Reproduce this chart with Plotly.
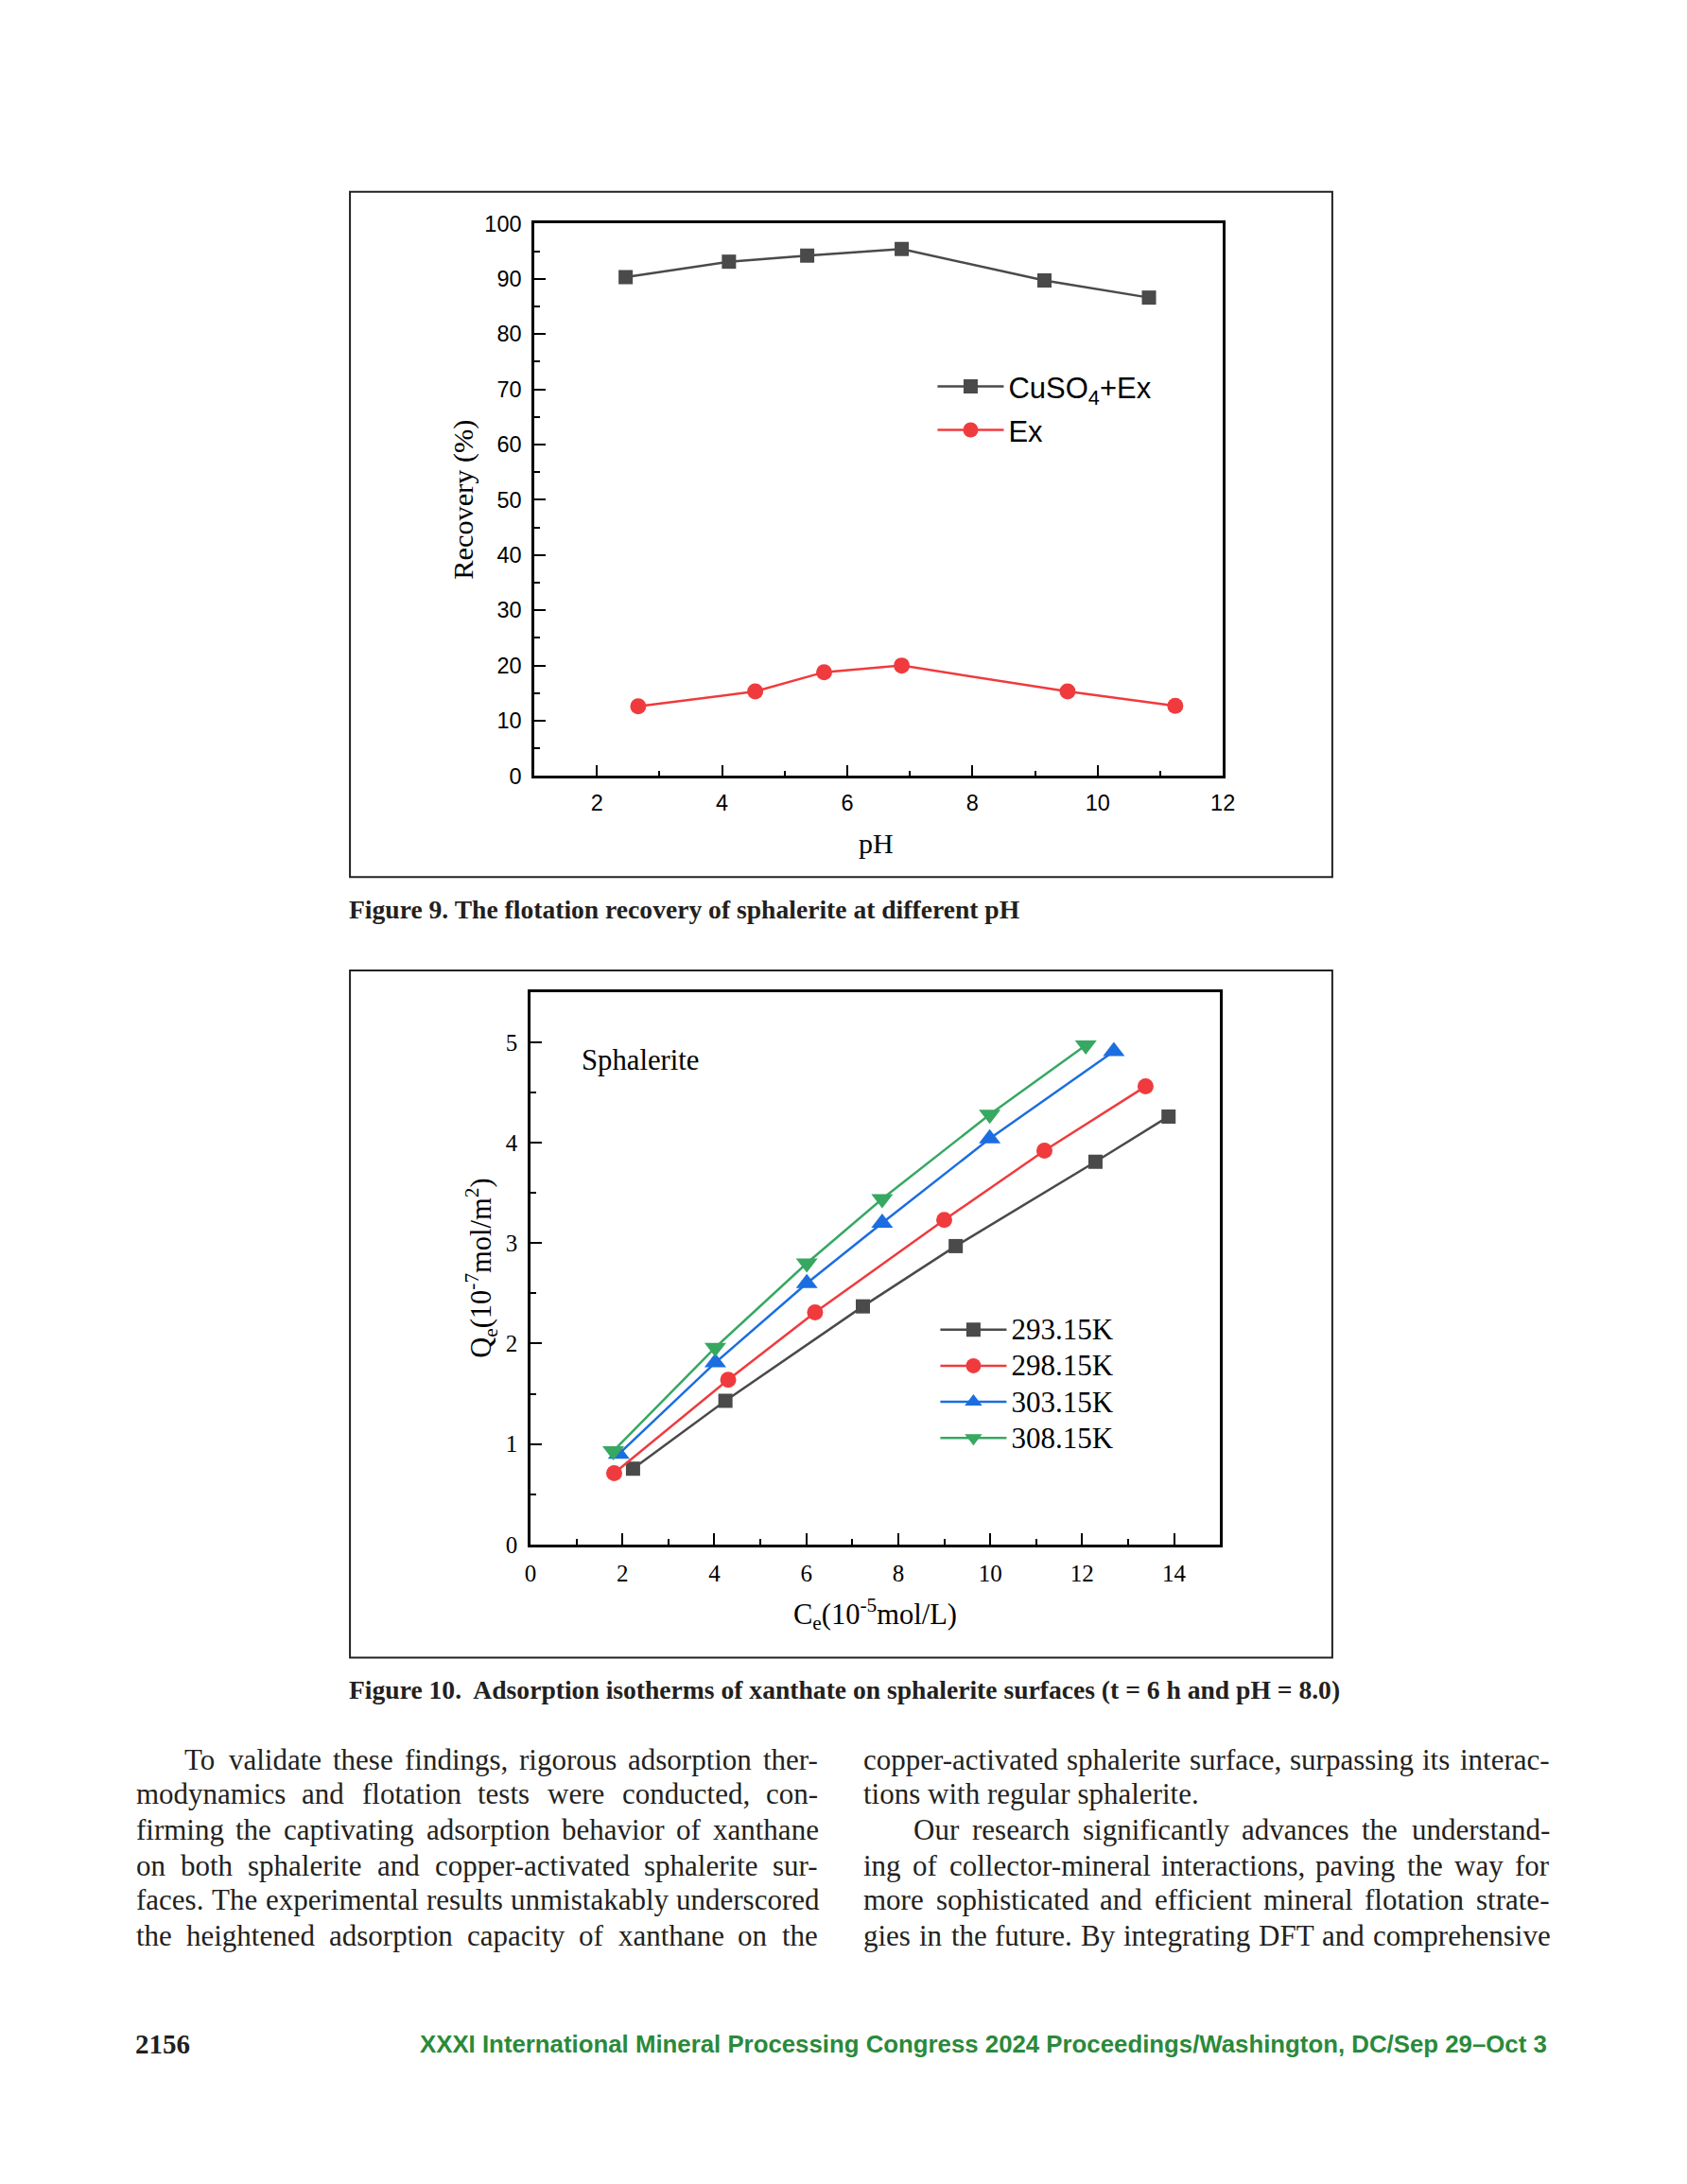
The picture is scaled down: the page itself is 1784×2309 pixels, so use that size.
import plotly.graph_objects as go

W, H = 1784, 2309

# ---------------- data: Figure 9 ----------------
ph_cuso4 = [2.46, 4.11, 5.36, 6.87, 9.15, 10.82]
rec_cuso4 = [90.3, 93.1, 94.2, 95.4, 89.7, 86.6]
ph_ex = [2.66, 4.53, 5.63, 6.87, 9.52, 11.24]
rec_ex = [12.6, 15.3, 18.8, 20.0, 15.3, 12.7]
fig9_names = ["CuSO<sub>4</sub>+Ex", "Ex"]

# ---------------- data: Figure 10 ----------------
temps = ["293.15K", "298.15K", "303.15K", "308.15K"]
ce_293 = [2.23, 4.24, 7.23, 9.25, 12.29, 13.88]
qe_293 = [0.755, 1.43, 2.37, 2.97, 3.81, 4.26]
ce_298 = [1.82, 4.30, 6.19, 9.00, 11.18, 13.38]
qe_298 = [0.71, 1.64, 2.31, 3.23, 3.92, 4.56]
ce_303 = [1.92, 4.02, 6.01, 7.65, 9.99, 12.69]
qe_303 = [0.90, 1.81, 2.60, 3.20, 4.04, 4.91]
ce_308 = [1.80, 4.02, 6.01, 7.65, 9.99, 12.08]
qe_308 = [0.93, 1.96, 2.80, 3.44, 4.28, 4.97]

# ---------------- page text ----------------
caption9 = "Figure 9. The flotation recovery of sphalerite at different pH"
caption10 = "Figure 10.  Adsorption isotherms of xanthate on sphalerite surfaces (t = 6 h and pH = 8.0)"
left_col = [
    "To validate these findings, rigorous adsorption ther-",
    "modynamics and flotation tests were conducted, con-",
    "firming the captivating adsorption behavior of xanthane",
    "on both sphalerite and copper-activated sphalerite sur-",
    "faces. The experimental results unmistakably underscored",
    "the heightened adsorption capacity of xanthane on the",
]
right_col = [
    "copper-activated sphalerite surface, surpassing its interac-",
    "tions with regular sphalerite.",
    "Our research significantly advances the understand-",
    "ing of collector-mineral interactions, paving the way for",
    "more sophisticated and efficient mineral flotation strate-",
    "gies in the future. By integrating DFT and comprehensive",
]
page_no = "2156"
footer = "XXXI International Mineral Processing Congress 2024 Proceedings/Washington, DC/Sep 29\u2013Oct 3"


def px(x):
    return x / W


def py(y):
    return 1 - y / H


SANS = "Liberation Sans, Arial, sans-serif"
SERIF = "Liberation Serif, Times New Roman, serif"

GRAY = "#4a4a4a"
RED = "#ef3b3e"
BLUE = "#1b6ee0"
GREEN = "#36a862"


def big(t, size):
    return '<span style="font-size:%dpx">%s</span>' % (size, t)


fig = go.Figure()

fig.add_trace(go.Scatter(x=ph_cuso4, y=rec_cuso4, mode="lines+markers", name=big(fig9_names[0], 31),
                         line=dict(color=GRAY, width=2.5),
                         marker=dict(symbol="square", size=15, color=GRAY),
                         xaxis="x", yaxis="y", legend="legend"))
fig.add_trace(go.Scatter(x=ph_ex, y=rec_ex, mode="lines+markers", name=big(fig9_names[1], 31),
                         line=dict(color=RED, width=2.5),
                         marker=dict(symbol="circle", size=17, color=RED),
                         xaxis="x", yaxis="y", legend="legend"))

series10 = [
    (ce_293, qe_293, GRAY, "square", 15),
    (ce_298, qe_298, RED, "circle", 17),
    (ce_303, qe_303, BLUE, "triangle-up", 20),
    (ce_308, qe_308, GREEN, "triangle-down", 20),
]
for name, (xs, ys, col, sym, sz) in zip(temps, series10):
    fig.add_trace(go.Scatter(x=xs, y=ys, mode="lines+markers", name=big(name, 31),
                             line=dict(color=col, width=2.5),
                             marker=dict(symbol=sym, size=sz, color=col),
                             xaxis="x2", yaxis="y2", legend="legend2"))

axis_common = dict(showline=True, linecolor="black", linewidth=2.5, mirror=True,
                   ticks="inside", ticklen=12, tickwidth=2, tickcolor="black",
                   showgrid=False, zeroline=False, ticklabelstandoff=6)
minor_common = dict(ticks="inside", ticklen=6, tickwidth=2, tickcolor="black")

fig.update_layout(
    width=W, height=H, autosize=False,
    margin=dict(l=0, r=0, t=0, b=0),
    paper_bgcolor="white", plot_bgcolor="white",
    xaxis=dict(domain=[px(565), px(1301)], range=[1, 12], dtick=2, tick0=0,
               minor=dict(dtick=1, **minor_common),
               tickfont=dict(family=SANS, size=23.5, color="black"), anchor="y", **axis_common),
    yaxis=dict(domain=[py(817), py(226)], range=[0, 100], dtick=10,
               minor=dict(dtick=5, **minor_common),
               tickfont=dict(family=SANS, size=23.5, color="black"), anchor="x", **axis_common),
    xaxis2=dict(domain=[px(561), px(1298)], range=[0, 15], dtick=2, tick0=0,
                minor=dict(dtick=1, **minor_common),
                tickfont=dict(family=SERIF, size=25, color="black"), anchor="y2", **axis_common),
    yaxis2=dict(domain=[py(1639), py(1048)], range=[0, 5.5], dtick=1,
                minor=dict(dtick=0.5, **minor_common),
                tickfont=dict(family=SERIF, size=25, color="black"), anchor="x2", **axis_common),
    legend=dict(x=px(991), y=py(372), xanchor="left", yanchor="top",
                font=dict(family=SANS, size=33, color="black"), itemwidth=70,
                bgcolor="rgba(0,0,0,0)"),
    legend2=dict(x=px(994), y=py(1385), xanchor="left", yanchor="top",
                 font=dict(family=SERIF, size=27, color="black"), itemwidth=70,
                 bgcolor="rgba(0,0,0,0)"),
)

for (x0, y0, x1, y1) in [(368, 192, 1418, 925), (368, 1025, 1418, 1760)]:
    fig.add_shape(type="rect", xref="paper", yref="paper",
                  x0=px(x0), x1=px(x1), y0=py(y1), y1=py(y0),
                  line=dict(color="#222222", width=2), fillcolor="rgba(0,0,0,0)")

TXT = "#231f20"
ann = []
ann.append(dict(text="pH", x=px(930), y=py(889), font=dict(family=SERIF, size=30)))
ann.append(dict(text="Recovery (%)", x=px(489), y=py(521), textangle=-90,
                font=dict(family=SERIF, size=30.3)))
ann.append(dict(text="C<sub>e</sub>(10<sup>-5</sup>mol/L)", x=px(929), y=py(1714),
                font=dict(family=SERIF, size=30.5)))
ann.append(dict(text="Q<sub>e</sub>(10<sup>-7</sup>mol/m<sup>2</sup>)", x=px(508), y=py(1344),
                textangle=-90, font=dict(family=SERIF, size=30.5)))
ann.append(dict(text="<b>" + caption9 + "</b>", x=px(365), y=py(960), xanchor="left",
                font=dict(family=SERIF, size=27.6, color=TXT)))
ann.append(dict(text="<b>" + caption10 + "</b>", x=px(365), y=py(1794), xanchor="left",
                font=dict(family=SERIF, size=27.6, color=TXT)))

# ---- justified body text (Times-metric advance widths, per 1000 em) ----
CW = {' ': 250, ',': 250, '-': 333, '.': 250, '/': 278,
      'a': 444, 'b': 500, 'c': 444, 'd': 500, 'e': 444, 'f': 333, 'g': 500, 'h': 500,
      'i': 278, 'j': 278, 'k': 500, 'l': 278, 'm': 778, 'n': 500, 'o': 500, 'p': 500,
      'q': 500, 'r': 333, 's': 389, 't': 278, 'u': 500, 'v': 500, 'w': 722, 'x': 500,
      'y': 500, 'z': 444, 'B': 667, 'D': 722, 'F': 556, 'O': 722, 'T': 611}
BODY = 31


def word_w(wd, size):
    return sum(CW.get(c, 500) for c in wd) * size / 1000.0


def body_line(text, x0, x1, y, justify):
    words = text.split(" ")
    if not justify or len(words) < 2:
        ann.append(dict(text=text, x=px(x0), y=py(y), xanchor="left",
                        font=dict(family=SERIF, size=BODY, color=TXT)))
        return
    widths = [word_w(w, BODY) for w in words]
    gap = (x1 - x0 - sum(widths)) / (len(words) - 1)
    x = x0
    for w, ww in zip(words, widths):
        ann.append(dict(text=w, x=px(x), y=py(y), xanchor="left",
                        font=dict(family=SERIF, size=BODY, color=TXT)))
        x += ww + gap


line_y = [1869, 1906, 1944, 1983, 2019, 2058]
L0, L1, R0, R1 = 137, 866, 915, 1647
for i, (t, yy) in enumerate(zip(left_col, line_y)):
    body_line(t, (189 if i == 0 else L0), L1, yy, True)
for i, (t, yy) in enumerate(zip(right_col, line_y)):
    body_line(t, (968 if i == 2 else R0), R1, yy, i != 1)

ann.append(dict(text="<b>" + page_no + "</b>", x=px(136), y=py(2173), xanchor="left",
                font=dict(family=SERIF, size=29, color=TXT)))
ann.append(dict(text="<b>" + footer + "</b>", x=px(1650), y=py(2173), xanchor="right",
                font=dict(family=SANS, size=25.8, color="#2a8a3a")))

for a in ann:
    a.setdefault("xref", "paper")
    a.setdefault("yref", "paper")
    a.setdefault("showarrow", False)
    a.setdefault("xanchor", "center")
    a.setdefault("yanchor", "middle")
    a["font"].setdefault("color", "black")

ann.append(dict(text="Sphalerite", x=1.07, y=4.82, xref="x2", yref="y2", showarrow=False,
                xanchor="left", yanchor="middle", font=dict(family=SERIF, size=30.7, color="black")))

fig.update_layout(annotations=ann)

post = ("document.documentElement.style.margin='0';"
        "document.body.style.margin='0';"
        "document.body.style.overflow='hidden';"
        "var d=document.getElementById('{plot_id}');"
        "d.style.position='absolute';d.style.left='0px';d.style.top='0px';")

fig.write_html("out.html", post_script=post, config={"displayModeBar": False})
